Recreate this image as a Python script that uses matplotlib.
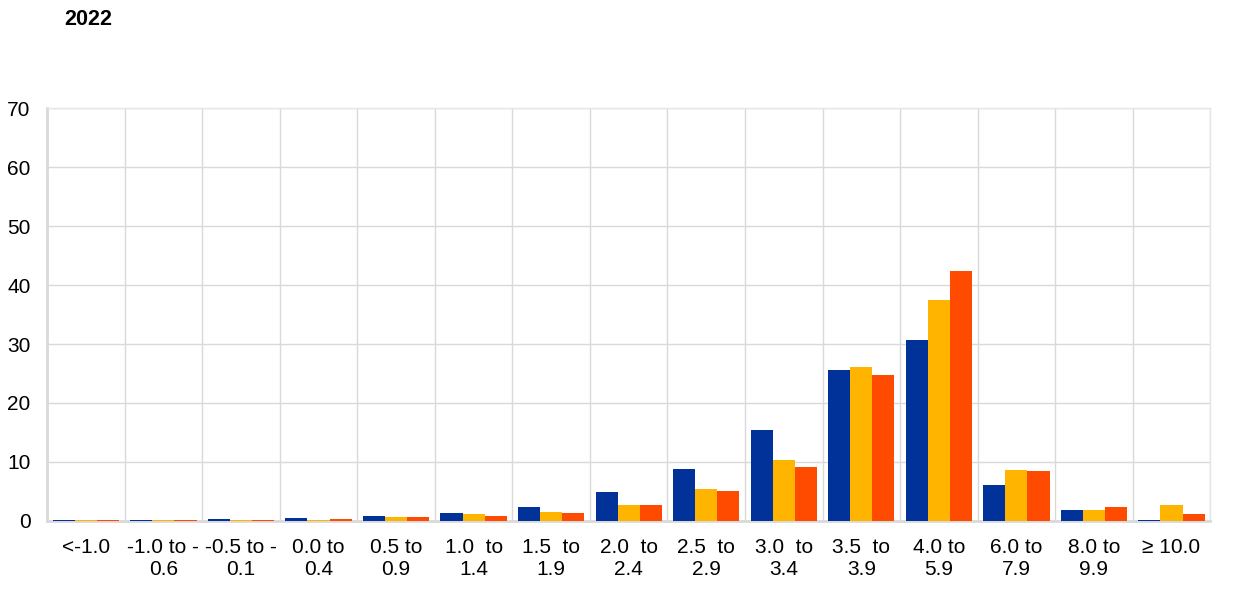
import numpy as np
import matplotlib.pyplot as plt

plt.rcParams['font.family'] = ['Liberation Sans', 'DejaVu Sans']

categories = ['<-1.0', '-1.0 to -\n0.6', '-0.5 to -\n0.1', '0.0 to\n0.4', '0.5 to\n0.9',
              '1.0  to\n1.4', '1.5  to\n1.9', '2.0  to\n2.4', '2.5  to\n2.9', '3.0  to\n3.4',
              '3.5  to\n3.9', '4.0 to\n5.9', '6.0 to\n7.9', '8.0 to\n9.9', '\u2265 10.0']
series_a = [0.1, 0.1, 0.3, 0.5, 0.8, 1.4, 2.4, 4.9, 8.8, 15.4, 25.6, 30.7, 6.1, 1.8, 0.1]
series_b = [0.1, 0.1, 0.1, 0.2, 0.6, 1.1, 1.5, 2.7, 5.5, 10.3, 26.1, 37.5, 8.6, 1.9, 2.7]
series_c = [0.1, 0.1, 0.1, 0.3, 0.6, 0.9, 1.3, 2.7, 5.1, 9.2, 24.7, 42.4, 8.4, 2.4, 1.2]
colors = ['#003299', '#FFB400', '#FF4B00']

fig = plt.figure(figsize=(12.4, 5.94), dpi=100)
ax = fig.add_axes([0.038, 0.123, 0.938, 0.695])

x = np.arange(len(categories))
w = 0.285
for i, (vals, c) in enumerate(zip([series_a, series_b, series_c], colors)):
    ax.bar(x + (i - 1) * w, vals, width=w, color=c, zorder=3)

ax.set_xlim(-0.5, len(categories) - 0.5)
ax.set_ylim(0, 70)
ax.set_yticks(range(0, 71, 10))
ax.set_xticks(x)
ax.set_xticklabels(categories, fontsize=15, linespacing=1.2)
ax.tick_params(axis='y', labelsize=15, length=0, pad=12)
ax.tick_params(axis='x', length=0, pad=12)

ax.set_xticks(np.arange(-0.5, len(categories)), minor=True)
ax.tick_params(axis='x', which='minor', length=0)
ax.grid(axis='y', color='#d9d9d9', lw=1, zorder=0)
ax.grid(axis='x', which='minor', color='#d9d9d9', lw=1, zorder=0)
ax.grid(axis='x', which='major', visible=False)

for s in ['top', 'right']:
    ax.spines[s].set_color('#e6e6e6')
    ax.spines[s].set_linewidth(1)
for s in ['left', 'bottom']:
    ax.spines[s].set_color('#d9d9d9')
    ax.spines[s].set_linewidth(2)

fig.text(0.052, 0.985, '2022', fontsize=15.5, fontweight='bold', va='top')

fig.savefig('out.png', dpi=100)
